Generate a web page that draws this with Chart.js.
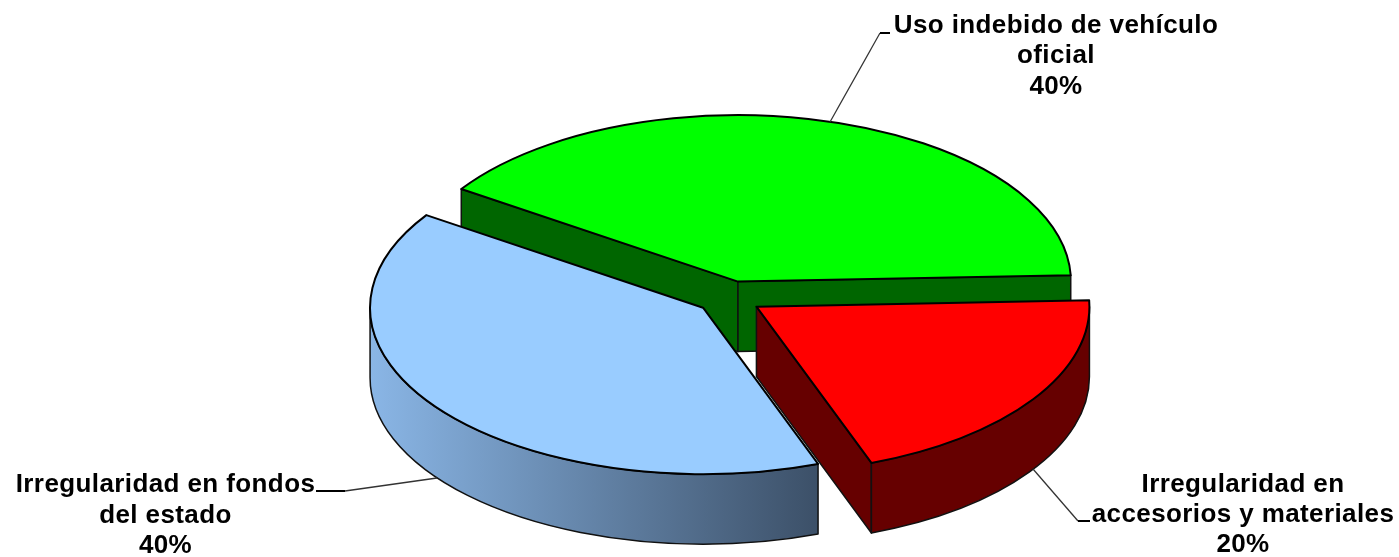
<!DOCTYPE html>
<html>
<head>
<meta charset="utf-8">
<style>
html,body{margin:0;padding:0;background:#fff;}
canvas{display:block;}
</style>
<script src="https://cdn.jsdelivr.net/npm/chart.js@4"></script>
</head>
<body>
<canvas id="c" width="1399" height="557"></canvas>
<script>
const categories = ['Uso indebido de vehículo oficial', 'Irregularidad en accesorios y materiales', 'Irregularidad en fondos del estado'];
const values = [40, 20, 40];
const labelLines = [['Uso indebido de vehículo', 'oficial'], ['Irregularidad en', 'accesorios y materiales'], ['Irregularidad en fondos', 'del estado']];
const topColors = ['#00ff00', '#ff0000', '#99ccff'];
const sideColors = ['#006600', '#660000', null];

const view = {cx: 729, cy: 297.5, r: 333, squash: 0.5, depth: 70, explode: 33};
const labelStyle = [
  {x: 1056, y: [26, 56, 87], leader: [[830, 122], [880, 33], [890, 33]]},
  {x: 1243, y: [484.5, 514.5, 545], leader: [[1033, 469], [1078, 521], [1090, 521]]},
  {x: 165.5, y: [485, 516, 546], leader: [[437, 478], [345, 491], [316, 491]]}
];

const pie3d = {
  id: 'pie3d',
  beforeDatasetDraw(chart) {
    const ctx = chart.ctx;
    const arcs = chart.getDatasetMeta(0).data;
    const {r, squash, depth, explode} = view;
    arcs.forEach((el, i) => {
      const a0 = el.startAngle, a1 = el.endAngle, mid = (a0 + a1) / 2;
      const cx = view.cx + Math.cos(mid) * explode;
      const cy = view.cy + Math.sin(mid) * explode * squash;
      const ex = a => cx + Math.cos(a) * r;
      const ey = a => cy + Math.sin(a) * r * squash;
      let fill = sideColors[i];
      if (!fill) {
        fill = ctx.createLinearGradient(ex(Math.PI), 0, ex(a0), 0);
        fill.addColorStop(0, '#8ab6e6');
        fill.addColorStop(1, '#3c5068');
      }
      ctx.save();
      ctx.lineJoin = 'round';
      ctx.strokeStyle = '#111';
      ctx.lineWidth = 1.5;
      ctx.fillStyle = fill;
      // cut faces that turn toward the viewer
      const face = a => {
        ctx.beginPath();
        ctx.moveTo(cx, cy);
        ctx.lineTo(ex(a), ey(a));
        ctx.lineTo(ex(a), ey(a) + depth);
        ctx.lineTo(cx, cy + depth);
        ctx.closePath();
        ctx.fill();
        ctx.stroke();
      };
      if (Math.cos(a0) < 0) face(a0);
      if (Math.cos(a1) > 0) face(a1);
      // outer wall: the front half of the rim only
      const lo = Math.max(a0, 0), hi = Math.min(a1, Math.PI);
      if (hi > lo) {
        ctx.beginPath();
        ctx.ellipse(cx, cy, r, r * squash, 0, lo, hi);
        ctx.lineTo(ex(hi), ey(hi) + depth);
        ctx.ellipse(cx, cy + depth, r, r * squash, 0, hi, lo, true);
        ctx.closePath();
        ctx.fill();
        ctx.stroke();
      }
      // top face: the library's own arc element, squashed into perspective
      const k = r / el.outerRadius;
      ctx.save();
      ctx.translate(cx, cy);
      ctx.scale(k, k * squash);
      ctx.translate(-el.x, -el.y);
      el.draw(ctx);
      ctx.restore();
      ctx.strokeStyle = '#000';
      ctx.lineWidth = 2;
      ctx.beginPath();
      ctx.moveTo(cx, cy);
      ctx.ellipse(cx, cy, r, r * squash, 0, a0, a1);
      ctx.closePath();
      ctx.stroke();
      ctx.restore();
    });
    return false;
  },
  afterDraw(chart) {
    const ctx = chart.ctx;
    ctx.save();
    labelStyle.forEach((s, i) => {
      const p = s.leader;
      ctx.strokeStyle = '#333';
      ctx.lineWidth = 1.3;
      ctx.beginPath();
      ctx.moveTo(p[0][0], p[0][1]);
      ctx.lineTo(p[1][0], p[1][1]);
      ctx.stroke();
      ctx.strokeStyle = '#000';
      ctx.lineWidth = 2;
      ctx.beginPath();
      ctx.moveTo(p[1][0], p[1][1]);
      ctx.lineTo(p[2][0], p[2][1]);
      ctx.stroke();
      ctx.fillStyle = '#000';
      ctx.font = 'bold 26px "Liberation Sans", Arial, sans-serif';
      ctx.letterSpacing = '0.4px';
      ctx.textAlign = 'center';
      ctx.textBaseline = 'middle';
      const lines = labelLines[i].concat(values[i] + '%');
      lines.forEach((t, j) => ctx.fillText(t, s.x, s.y[j]));
    });
    ctx.restore();
  }
};

new Chart(document.getElementById('c'), {
  type: 'pie',
  data: {
    labels: categories,
    datasets: [{
      data: values,
      backgroundColor: topColors,
      borderWidth: 0,
      clip: false
    }]
  },
  options: {
    responsive: false,
    animation: false,
    rotation: -56.2,
    layout: {padding: 0},
    plugins: {legend: {display: false}, tooltip: {enabled: false}, title: {display: false}},
    events: []
  },
  plugins: [pie3d]
});
</script>
</body>
</html>
